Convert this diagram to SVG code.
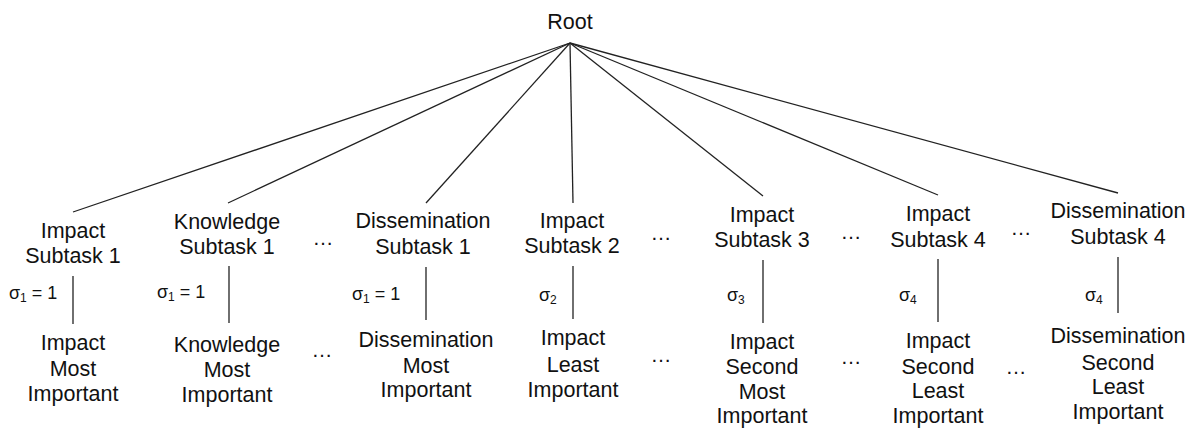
<svg xmlns="http://www.w3.org/2000/svg" width="1195" height="428" viewBox="0 0 1195 428">
<style>
text{font-family:"Liberation Sans",Arial,sans-serif;fill:#111}
.n{font-size:21.5px;text-anchor:middle}
.s{font-size:18px}
.sub{font-size:12px}
.e{font-size:21px;text-anchor:middle}
line{stroke:#222;stroke-width:1.3}
</style>
<rect width="1195" height="428" fill="#fff"/>
<g id="connectors">
<line x1="570" y1="43" x2="73" y2="212"/>
<line x1="570" y1="43" x2="228" y2="203"/>
<line x1="570" y1="43" x2="426" y2="203"/>
<line x1="570" y1="43" x2="573" y2="203"/>
<line x1="570" y1="43" x2="763" y2="196"/>
<line x1="570" y1="43" x2="938" y2="195"/>
<line x1="570" y1="43" x2="1118" y2="193"/>
<line x1="73" y1="276" x2="73" y2="324"/>
<line x1="229" y1="266" x2="229" y2="323"/>
<line x1="426" y1="267" x2="426" y2="320"/>
<line x1="573" y1="266" x2="573" y2="319"/>
<line x1="763" y1="260" x2="763" y2="323"/>
<line x1="938" y1="259" x2="938" y2="322"/>
<line x1="1118" y1="257" x2="1118" y2="313"/>
</g>
<g id="root"><text class="n" x="570" y="29">Root</text></g>
<g id="impact-subtask-1"><text class="n" x="73" y="238">Impact</text><text class="n" x="73" y="263">Subtask 1</text></g>
<g id="knowledge-subtask-1"><text class="n" x="227" y="229">Knowledge</text><text class="n" x="227" y="254">Subtask 1</text></g>
<g id="dissemination-subtask-1"><text class="n" x="423" y="228">Dissemination</text><text class="n" x="423" y="254">Subtask 1</text></g>
<g id="impact-subtask-2"><text class="n" x="572" y="228">Impact</text><text class="n" x="572" y="253">Subtask 2</text></g>
<g id="impact-subtask-3"><text class="n" x="762" y="222">Impact</text><text class="n" x="762" y="247">Subtask 3</text></g>
<g id="impact-subtask-4"><text class="n" x="938" y="221">Impact</text><text class="n" x="938" y="247">Subtask 4</text></g>
<g id="dissemination-subtask-4"><text class="n" x="1118" y="218">Dissemination</text><text class="n" x="1118" y="244">Subtask 4</text></g>
<g id="labels">
<text class="s" x="9" y="299">σ<tspan class="sub" dy="3">1</tspan><tspan dy="-3"> = 1</tspan></text>
<text class="s" x="157" y="298">σ<tspan class="sub" dy="3">1</tspan><tspan dy="-3"> = 1</tspan></text>
<text class="s" x="352" y="300">σ<tspan class="sub" dy="3">1</tspan><tspan dy="-3"> = 1</tspan></text>
<text class="s" x="539" y="301">σ<tspan class="sub" dy="3">2</tspan></text>
<text class="s" x="727" y="301">σ<tspan class="sub" dy="3">3</tspan></text>
<text class="s" x="899" y="301">σ<tspan class="sub" dy="3">4</tspan></text>
<text class="s" x="1085" y="301">σ<tspan class="sub" dy="3">4</tspan></text>
</g>
<g id="impact-most-important"><text class="n" x="73" y="350">Impact</text><text class="n" x="73" y="376">Most</text><text class="n" x="73" y="401">Important</text></g>
<g id="knowledge-most-important"><text class="n" x="227" y="352">Knowledge</text><text class="n" x="227" y="377">Most</text><text class="n" x="227" y="402">Important</text></g>
<g id="dissemination-most-important"><text class="n" x="426" y="347">Dissemination</text><text class="n" x="426" y="373">Most</text><text class="n" x="426" y="397">Important</text></g>
<g id="impact-least-important"><text class="n" x="573" y="345">Impact</text><text class="n" x="573" y="372">Least</text><text class="n" x="573" y="397">Important</text></g>
<g id="impact-second-most-important"><text class="n" x="762" y="349">Impact</text><text class="n" x="762" y="374">Second</text><text class="n" x="762" y="399">Most</text><text class="n" x="762" y="423">Important</text></g>
<g id="impact-second-least-important"><text class="n" x="938" y="348">Impact</text><text class="n" x="938" y="374">Second</text><text class="n" x="938" y="398">Least</text><text class="n" x="938" y="423">Important</text></g>
<g id="dissemination-second-least-important"><text class="n" x="1118" y="343">Dissemination</text><text class="n" x="1118" y="370">Second</text><text class="n" x="1118" y="394">Least</text><text class="n" x="1118" y="419">Important</text></g>
<g id="ellipses">
<text class="e" x="323" y="245">…</text>
<text class="e" x="661" y="240">…</text>
<text class="e" x="851" y="239">…</text>
<text class="e" x="1021" y="235">…</text>
<text class="e" x="322" y="357">…</text>
<text class="e" x="661" y="362">…</text>
<text class="e" x="851" y="364">…</text>
<text class="e" x="1016" y="374">…</text>
</g>
</svg>
